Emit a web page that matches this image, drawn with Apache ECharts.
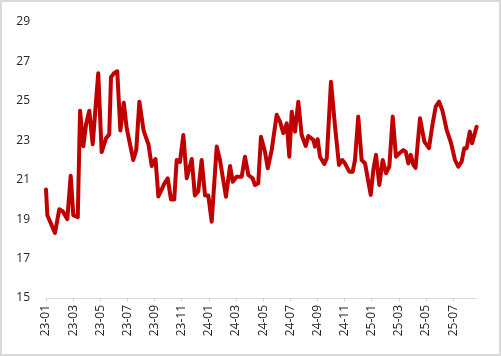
<!DOCTYPE html>
<html><head><meta charset="utf-8">
<script src="https://cdn.jsdelivr.net/npm/echarts@6/dist/echarts.min.js"></script>
<style>html,body{margin:0;padding:0;background:#fff}#c{width:501px;height:356px}</style>
</head><body><div id="c"></div>
<script>
// x positions in months since Jan 2023 (0 = 23-01)
var months = [0,0.10,0.66,0.98,1.23,1.57,1.82,2.01,2.34,2.51,2.75,2.95,3.19,3.44,3.85,4.10,4.42,4.66,4.79,5.01,5.25,5.48,5.73,5.95,6.43,6.65,6.88,7.19,7.44,7.55,7.79,8.07,8.28,8.72,8.97,9.21,9.45,9.63,9.87,10.12,10.37,10.74,10.97,11.22,11.47,11.72,11.96,12.21,12.58,12.82,13.26,13.56,13.76,14.05,14.42,14.66,14.91,15.23,15.40,15.64,15.84,16.14,16.34,16.63,17.00,17.24,17.49,17.74,17.93,18.11,18.35,18.59,18.84,19.14,19.33,19.70,19.82,20.02,20.19,20.51,20.69,21.00,21.30,21.59,21.83,22.03,22.35,22.60,22.77,23.01,23.26,23.51,23.93,24.12,24.32,24.56,24.81,25.06,25.30,25.55,25.79,26.04,26.33,26.51,26.70,26.88,27.07,27.23,27.56,27.88,28.22,28.48,28.72,28.96,29.20,29.53,29.85,30.14,30.38,30.63,30.82,31.00,31.23,31.40,31.73];
var values = [20.5,19.2,18.3,19.5,19.4,19.0,21.2,19.2,19.1,24.5,22.7,23.8,24.5,22.8,26.4,22.4,23.1,23.3,26.2,26.4,26.5,23.5,24.9,23.6,22.0,22.5,24.96,23.5,23.0,22.8,21.7,22.05,20.15,20.8,21.07,20.0,20.0,22.0,21.9,23.27,21.07,22.05,20.2,20.4,22.0,20.2,20.2,18.87,22.68,22.0,20.14,21.7,20.9,21.15,21.15,22.17,21.24,21.07,20.73,20.82,23.18,22.4,21.58,22.5,24.29,23.95,23.36,23.86,22.17,24.45,23.44,24.96,23.27,22.71,23.22,23.02,22.68,23.05,22.17,21.8,22.09,25.97,23.69,21.75,22.0,21.83,21.41,21.41,22.0,24.2,22.0,21.83,20.23,21.5,22.26,20.73,22.0,21.33,21.66,24.2,22.17,22.34,22.5,22.42,21.83,22.26,21.75,21.6,24.12,22.93,22.6,23.8,24.71,24.96,24.54,23.52,22.85,22.0,21.66,21.92,22.6,22.6,23.44,22.85,23.69];
var yTicks = [15,17,19,21,23,25,27,29];
var startYear = 23;

var data = months.map(function(m,i){return [m, values[i]];});
function monthLabel(m){
  if (Math.abs(m - Math.round(m)) > 1e-6 || Math.round(m) % 2 !== 0) return '';
  var y = startYear + Math.floor(m/12);
  var mo = Math.round(m) % 12 + 1;
  return y + '-' + (mo < 10 ? '0' + mo : mo);
}
var chart = echarts.init(document.getElementById('c'), null, {renderer:'canvas'});
chart.setOption({
  animation:false,
  graphic:[{type:'rect',shape:{x:1,y:1,width:499,height:354},style:{fill:'none',stroke:'#d9d9d9',lineWidth:2},silent:true}],
  grid:{left:46,right:24,top:22,bottom:58,containLabel:false},
  xAxis:{type:'value',min:0,max:31.76,interval:2,
    axisLine:{show:true,lineStyle:{color:'#d9d9d9',width:1}},
    axisTick:{show:true,length:4,lineStyle:{color:'#d9d9d9'}},
    splitLine:{show:false},
    axisLabel:{rotate:90,margin:7,color:'#262626',fontFamily:'Open Sans',fontSize:12,showMaxLabel:false,
      formatter:function(v){return monthLabel(v);}}},
  yAxis:{type:'value',min:yTicks[0],max:yTicks[yTicks.length-1],interval:2,
    axisLine:{show:false},axisTick:{show:false},splitLine:{show:false},
    axisLabel:{margin:16,color:'#262626',fontFamily:'Open Sans',fontSize:12}},
  series:[{type:'line',data:data,showSymbol:false,symbol:'none',
    lineStyle:{color:'#c00000',width:4,cap:'round',join:'round'}}]
});
</script></body></html>
